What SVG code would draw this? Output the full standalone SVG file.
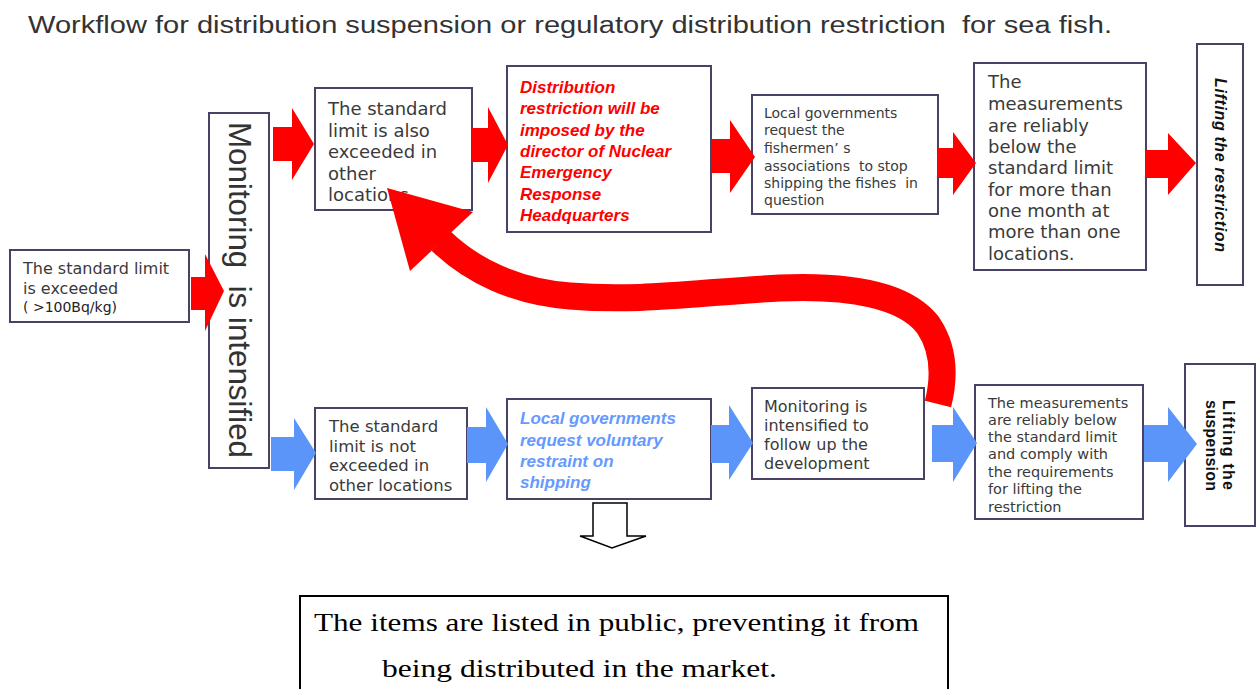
<svg xmlns="http://www.w3.org/2000/svg" width="1258" height="689" viewBox="0 0 1258 689">
<style>
.box{fill:#fff;stroke:#4a4266;stroke-width:2}
.g{font-family:"DejaVu Sans",sans-serif;fill:#3a3a3a}
.red{font-family:"Liberation Sans",sans-serif;font-weight:bold;font-style:italic;fill:#ff0000;font-size:17px}
.blue{font-family:"Liberation Sans",sans-serif;font-weight:bold;font-style:italic;fill:#6699ff;font-size:17px}
.ra{fill:#ff0000}
.ba{fill:#5b95f9}
</style>
<rect width="1258" height="689" fill="#fff"/>
<text xml:space="preserve" x="28" y="33" font-family="Liberation Sans, sans-serif" font-size="23" fill="#333" textLength="1084" lengthAdjust="spacingAndGlyphs">Workflow for distribution suspension or regulatory distribution restriction  for sea fish.</text>

<g id="box1"><rect class="box" x="10" y="250" width="179" height="72"/>
<text class="g" font-size="16"><tspan x="23" y="274">The standard limit</tspan><tspan x="23" y="294">is exceeded</tspan><tspan x="23" y="312" font-size="14" fill="#222">( &gt;100Bq/kg)</tspan></text></g>

<g id="monitoring"><rect class="box" x="209" y="113" width="60" height="355"/>
<text xml:space="preserve" transform="translate(229,122) rotate(90)" font-family="Liberation Sans, sans-serif" font-size="31" fill="#333" textLength="336" lengthAdjust="spacingAndGlyphs">Monitoring  is intensified</text></g>

<g id="box2"><rect class="box" x="315" y="88" width="157" height="122"/>
<text class="g" font-size="18"><tspan x="328" y="115">The standard</tspan><tspan x="328" y="136.5">limit is also</tspan><tspan x="328" y="158">exceeded in</tspan><tspan x="328" y="179.5">other</tspan><tspan x="328" y="201">locations</tspan></text></g>

<g id="box3"><rect class="box" x="507" y="66" width="204" height="166"/>
<text class="red"><tspan x="520" y="93">Distribution</tspan><tspan x="520" y="114">restriction will be</tspan><tspan x="520" y="135.5">imposed by the</tspan><tspan x="520" y="157">director of Nuclear</tspan><tspan x="520" y="178">Emergency</tspan><tspan x="520" y="199.5">Response</tspan><tspan x="520" y="221">Headquarters</tspan></text></g>

<g id="box4"><rect class="box" x="752" y="95" width="186" height="119"/>
<text xml:space="preserve" class="g" font-size="14"><tspan x="764" y="118">Local governments</tspan><tspan x="764" y="135">request the</tspan><tspan x="764" y="153">fishermen’ s</tspan><tspan x="764" y="171">associations  to stop</tspan><tspan x="764" y="188">shipping the fishes  in</tspan><tspan x="764" y="205">question</tspan></text></g>

<g id="box5"><rect class="box" x="974" y="63" width="172" height="207"/>
<text class="g" font-size="18"><tspan x="988" y="88">The</tspan><tspan x="988" y="110">measurements</tspan><tspan x="988" y="131.5">are reliably</tspan><tspan x="988" y="152.5">below the</tspan><tspan x="988" y="174">standard limit</tspan><tspan x="988" y="195.5">for more than</tspan><tspan x="988" y="216.5">one month at</tspan><tspan x="988" y="238">more than one</tspan><tspan x="988" y="260">locations.</tspan></text></g>

<g id="box6"><rect class="box" x="1197" y="44" width="46" height="241"/>
<text transform="translate(1215,78) rotate(90)" font-family="Liberation Sans, sans-serif" font-weight="bold" font-style="italic" font-size="16" fill="#111" textLength="174">Lifting the restriction</text></g>

<g id="box7"><rect class="box" x="315" y="408" width="152" height="91"/>
<text class="g" font-size="16.5"><tspan x="329" y="432">The standard</tspan><tspan x="329" y="452">limit is not</tspan><tspan x="329" y="471">exceeded in</tspan><tspan x="329" y="491">other locations</tspan></text></g>

<g id="box8"><rect class="box" x="507" y="399" width="204" height="100"/>
<text class="blue"><tspan x="520" y="424">Local governments</tspan><tspan x="520" y="446">request voluntary</tspan><tspan x="520" y="467">restraint on</tspan><tspan x="520" y="488">shipping</tspan></text></g>

<g id="box9"><rect class="box" x="752" y="388" width="172" height="91"/>
<text class="g" font-size="16"><tspan x="764" y="412">Monitoring is</tspan><tspan x="764" y="431">intensified to</tspan><tspan x="764" y="450">follow up the</tspan><tspan x="764" y="469">development</tspan></text></g>

<g id="box10"><rect class="box" x="975" y="385" width="168" height="134"/>
<text class="g" font-size="14.5"><tspan x="988" y="408">The measurements</tspan><tspan x="988" y="425">are reliably below</tspan><tspan x="988" y="442">the standard limit</tspan><tspan x="988" y="459">and comply with</tspan><tspan x="988" y="477">the requirements</tspan><tspan x="988" y="494">for lifting the</tspan><tspan x="988" y="512">restriction</tspan></text></g>

<g id="box11"><rect class="box" x="1185" y="364" width="70" height="162"/>
<text transform="translate(1223,400) rotate(90)" font-family="Liberation Sans, sans-serif" font-weight="bold" font-size="16" fill="#111" textLength="90">Lifting the</text>
<text transform="translate(1206,400) rotate(90)" font-family="Liberation Sans, sans-serif" font-weight="bold" font-size="16" fill="#111" textLength="91">suspension</text></g>

<g id="note"><rect x="300" y="596" width="648" height="110" fill="#fff" stroke="#000" stroke-width="2"/>
<text font-family="Liberation Serif, serif" font-size="26" fill="#000"><tspan x="314" y="631" textLength="605" lengthAdjust="spacingAndGlyphs">The items are listed in public, preventing it from</tspan><tspan x="382" y="677" textLength="395" lengthAdjust="spacingAndGlyphs">being distributed in the market.</tspan></text></g>

<g id="connectors">
<polygon class="ra" points="191,277 205,277 205,254 224,291 205,331 205,310 191,310"/>
<polygon class="ra" points="273,127 292,127 292,108 314,144 292,180 292,161 273,161"/>
<polygon class="ra" points="472,128 488,128 488,107 508,145 488,183 488,162 472,162"/>
<polygon class="ra" points="711,139 730,139 730,120 755,157 730,193 730,173 711,173"/>
<polygon class="ra" points="938,148 953,148 953,132 976,163 953,195 953,178 938,178"/>
<polygon class="ra" points="1146,150 1168,150 1168,133 1196,163 1168,195 1168,178 1146,178"/>
<polygon class="ba" points="271,437 294,437 294,418 316,453 294,490 294,471 271,471"/>
<polygon class="ba" points="467,427 486,427 486,407 508,444 486,482 486,463 467,463"/>
<polygon class="ba" points="711,425 729,425 729,405 753,443 729,480 729,463 711,463"/>
<polygon class="ba" points="932,425 953,425 953,407 977,443 953,482 953,462 932,462"/>
<polygon class="ba" points="1144,425 1168,425 1168,407 1197,444 1168,482 1168,462 1144,462"/>
<polygon points="593,503 627,503 627,536 646,536 612,548 580,536 593,536" fill="#fff" stroke="#000" stroke-width="1.5"/>
<path d="M441,241 C471,270 515,292 570,296 C640,302 700,292 780,288 C850,285 905,295 928,325 C945,350 944,380 938,404" fill="none" stroke="#ff0000" stroke-width="27"/>
<polygon class="ra" points="387,188 473,212 410,271"/>
</g>
</svg>
